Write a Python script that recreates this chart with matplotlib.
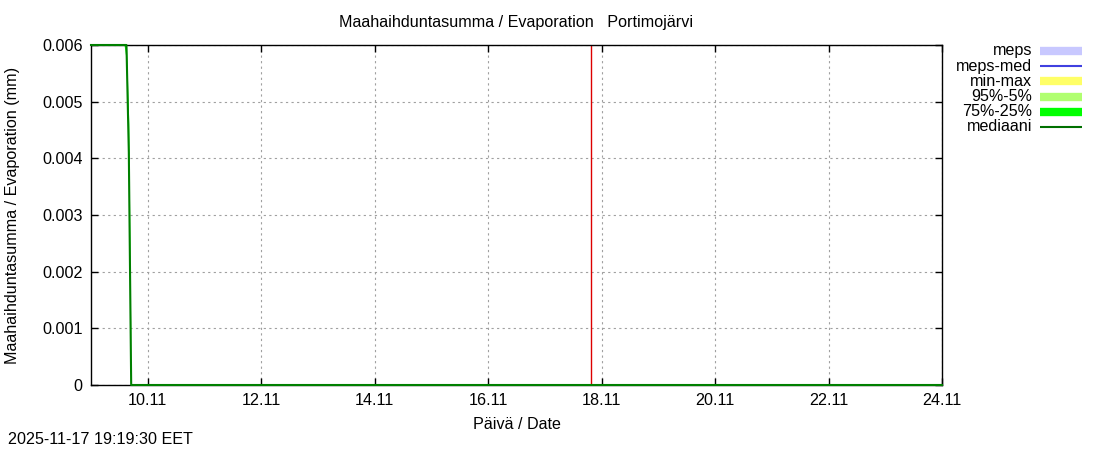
import numpy as np
import matplotlib
matplotlib.use('Agg')
import matplotlib.pyplot as plt
import matplotlib.dates as mdates
from datetime import datetime, timedelta

plt.rcParams['font.family'] = ['Liberation Sans', 'DejaVu Sans']
FS = 11.6

# data (hours after 9.11.2025 00:00)
start = datetime(2025, 11, 9)
tunnit = [0, 14, 15, 16, 17, 360]
mediaani = [0.006, 0.006, 0.006, 0.0041, 0.0, 0.0]
p25 = [0.006, 0.006, 0.0057, 0.0035, 0.0, 0.0]
p75 = [0.006, 0.006, 0.006, 0.0046, 0.0, 0.0]
nyt = datetime(2025, 11, 17, 19, 19, 30)

ajat = [start + timedelta(hours=h) for h in tunnit]

fig = plt.figure(figsize=(11, 4.5), dpi=100)
ax = fig.add_axes([91/1100, 1-385/450, 851/1100, 340/450])

ax.fill_between(ajat, p25, p75, color='#00ff00', linewidth=0, zorder=2)
ax.plot(ajat, mediaani, color='#008000', linewidth=1.5, zorder=3, clip_on=False)
ax.axvline(nyt, color='#dd0000', linewidth=1, zorder=2)

ax.set_xlim(start, start + timedelta(days=15))
ax.set_ylim(0, 0.006)
ax.xaxis.set_major_locator(mdates.DayLocator(bymonthday=[10, 12, 14, 16, 18, 20, 22, 24]))
ax.xaxis.set_major_formatter(mdates.DateFormatter('%d.%m'))
ax.set_yticks(np.arange(0, 0.0061, 0.001))
ax.set_yticklabels(['0', '0.001', '0.002', '0.003', '0.004', '0.005', '0.006'])
ax.tick_params(direction='in', length=5, width=1, labelsize=FS, top=True, right=True, pad=6)
ax.grid(True, color='#a0a0a0', linestyle=(0, (2, 3)), linewidth=0.8)
for s in ax.spines.values():
    s.set_linewidth(1)

ax.set_title('Maahaihduntasumma / Evaporation   Portimojärvi', fontsize=FS, pad=13)
ax.set_xlabel('Päivä / Date', fontsize=FS, labelpad=6)
fig.text(13/1100, 1-215/450, 'Maahaihduntasumma / Evaporation (mm)', fontsize=FS,
         rotation=90, ha='center', va='center')

fig.text(8/1100, 1-440/450, '2025-11-17 19:19:30 EET', fontsize=FS, va='center')

# legend
selitteet = ['meps', 'meps-med', 'min-max', '95%-5%', '75%-25%', 'mediaani']
varit = ['#c8c8ff', '#4040e0', '#ffff66', '#b0ff70', '#00ff00', '#007000']
paksuus = [6, 1.5, 6, 6, 6, 1.5]
for i, (lab, c, lw) in enumerate(zip(selitteet, varit, paksuus)):
    y = 1 - (51 + i*15.2)/450
    fig.text(1032/1100, y, lab, fontsize=FS, ha='right', va='center')
    fig.add_artist(plt.Line2D([1040/1100, 1082/1100], [y, y], color=c, linewidth=lw,
                              solid_capstyle='butt', transform=fig.transFigure))

fig.savefig('out.png', dpi=100)
